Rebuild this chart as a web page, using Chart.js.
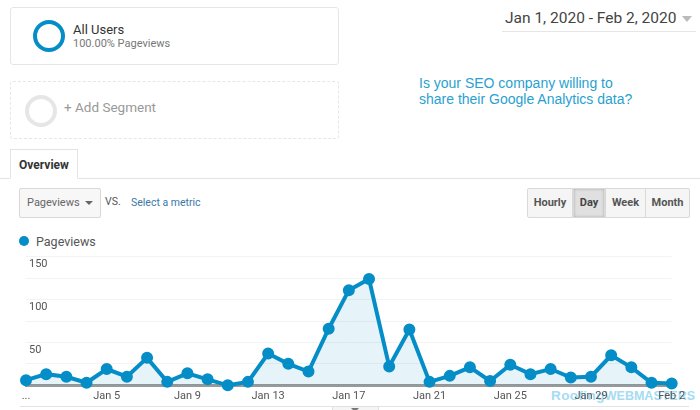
<!DOCTYPE html>
<html>
<head>
<meta charset="utf-8">
<script src="https://cdn.jsdelivr.net/npm/chart.js@4"></script>
<style>
html, body { margin: 0; padding: 0; background: #fff; }
body { width: 700px; height: 410px; position: relative; overflow: hidden; font-family: Roboto, sans-serif; }
.abs { position: absolute; white-space: nowrap; }
.box { position: absolute; left: 10px; width: 329px; height: 58px; border-radius: 3px; box-sizing: border-box; }
.ring { position: absolute; border-radius: 50%; box-sizing: border-box; width: 32px; height: 32px; border-style: solid; border-width: 4px; }
.btn { position: absolute; top: 188px; height: 30px; box-sizing: border-box; border: 1px solid #d9d9d9; background: #f5f5f5; color: #555; font: bold 11px/28px Roboto, sans-serif; text-align: center; }
#chartWrap { position: absolute; left: 0; top: 240px; width: 700px; height: 170px; }
</style>
</head>
<body>
<div class="box" style="top:7px;border:1px solid #e6e6e6"></div>
<div class="ring" style="left:33px;top:20px;border-color:#058dc7"></div>
<div class="abs" style="left:73px;top:22px;font-size:13px;color:#333">All Users</div>
<div class="abs" style="left:73px;top:37px;font-size:11px;color:#777">100.00% Pageviews</div>

<div class="box" style="top:81px;border:1px dashed #e6e6e6"></div>
<div class="ring" style="left:25px;top:95px;border-color:#e6e6e6"></div>
<div class="abs" style="left:64px;top:99px;font-size:13.5px;color:#999">+ Add Segment</div>

<div class="abs" style="left:505px;top:9px;font-size:15.5px;color:#444">Jan 1, 2020 - Feb 2, 2020</div>
<div class="abs" style="left:682px;top:16px;width:0;height:0;border-left:5px solid transparent;border-right:5px solid transparent;border-top:6px solid #bbb"></div>
<div class="abs" style="left:502px;top:31px;width:194px;height:1px;background:#e6e6e6"></div>

<div class="abs" style="left:419px;top:75px;font:14px/16px 'Liberation Sans',sans-serif;color:#2a9fd0">Is your SEO company willing to<br>share their Google Analytics data?</div>

<div class="abs" style="left:0;top:178px;width:700px;height:1px;background:#e3e3e3"></div>
<div class="abs" style="left:10px;top:149px;width:68px;height:30px;box-sizing:border-box;border:1px solid #e3e3e3;border-bottom:1px solid #fff;background:#fff;font:bold 12px/30px Roboto,sans-serif;color:#333;text-align:center">Overview</div>

<div class="abs" style="left:19px;top:188px;width:82px;height:30px;box-sizing:border-box;border:1px solid #d9d9d9;border-radius:2px;background:#f7f7f7;font:11px/28px Roboto,sans-serif;color:#666;padding-left:7px">Pageviews</div>
<div class="abs" style="left:85px;top:201px;width:0;height:0;border-left:4px solid transparent;border-right:4px solid transparent;border-top:4px solid #666"></div>
<div class="abs" style="left:105px;top:195px;font-size:10.5px;color:#555">VS.</div>
<div class="abs" style="left:131px;top:196px;font-size:10.5px;color:#3a78a8">Select a metric</div>

<div class="btn" style="left:527px;width:46px;border-radius:2px 0 0 2px">Hourly</div>
<div class="btn" style="left:573px;width:32px;background:#e0e0e0;box-shadow:inset 0 0 3px #aaa;color:#444">Day</div>
<div class="btn" style="left:605px;width:41px">Week</div>
<div class="btn" style="left:645px;width:45px;border-radius:0 2px 2px 0">Month</div>

<div class="abs" style="left:19px;top:236px;width:10px;height:10px;border-radius:50%;background:#058dc7"></div>
<div class="abs" style="left:36px;top:234px;font-size:12.5px;color:#555">Pageviews</div>

<div class="abs" style="left:551px;top:389px;font:bold 13.5px/14px 'Liberation Sans',sans-serif;color:#a5dcf3;letter-spacing:.4px">Roofing<span style="font-size:12.5px;letter-spacing:0">WEBMASTERS</span></div>

<div id="chartWrap"><canvas id="gaChart"></canvas></div>

<div class="abs" style="left:20px;top:406px;width:669px;height:1px;background:#e3e3e3"></div>
<div class="abs" style="left:332px;top:406px;width:47px;height:6px;box-sizing:border-box;border:1px solid #e0e0e0;background:#f5f5f5"></div>
<div class="abs" style="left:351px;top:408px;width:0;height:0;border-left:4px solid transparent;border-right:4px solid transparent;border-top:4px solid #777"></div>

<script>
// Chart data
const DAYS = ['Jan 1', 'Jan 2', 'Jan 3', 'Jan 4', 'Jan 5', 'Jan 6', 'Jan 7', 'Jan 8', 'Jan 9', 'Jan 10', 'Jan 11',
    'Jan 12', 'Jan 13', 'Jan 14', 'Jan 15', 'Jan 16', 'Jan 17', 'Jan 18', 'Jan 19', 'Jan 20', 'Jan 21', 'Jan 22',
    'Jan 23', 'Jan 24', 'Jan 25', 'Jan 26', 'Jan 27', 'Jan 28', 'Jan 29', 'Jan 30', 'Jan 31', 'Feb 1', 'Feb 2'];
const PAGEVIEWS = [6, 13, 10, 3, 19, 10, 32, 4, 14, 7, 0, 4, 37, 25, 16, 66, 111, 124, 22, 65, 4, 11, 21, 5, 24, 13,
    19, 9, 10, 35, 21, 3, 2];
const TICK_DAYS = ['Jan 5', 'Jan 9', 'Jan 13', 'Jan 17', 'Jan 21', 'Jan 25', 'Jan 29', 'Feb 2'];
const Y_LABELS = [50, 100, 150];

const LINE_BLUE = '#058dc7';

new Chart(document.getElementById('gaChart').getContext('2d'), {
    type: 'line',
    data: {
        labels: DAYS,
        datasets: [{
            label: 'Pageviews',
            data: PAGEVIEWS,
            borderColor: LINE_BLUE,
            backgroundColor: 'rgba(5, 141, 199, 0.1)',
            fill: true,
            tension: 0,
            borderWidth: 4,
            pointRadius: 4,
            pointBackgroundColor: LINE_BLUE,
            pointBorderColor: LINE_BLUE,
            clip: false
        }]
    },
    options: {
        responsive: true,
        maintainAspectRatio: false,
        animation: false,
        layout: { padding: { left: 26, right: 28.3, top: 16.7, bottom: 0 } },
        plugins: { legend: { display: false }, tooltip: { enabled: false } },
        scales: {
            x: {
                offset: false,
                afterFit: (scale) => { scale.height = 24.7; },
                grid: { display: false, drawTicks: false },
                border: { color: '#999', width: 3 },
                ticks: {
                    autoSkip: false,
                    maxRotation: 0,
                    padding: 4,
                    color: '#555',
                    font: { family: 'Roboto', size: 11 },
                    callback: function (value, index) {
                        const day = DAYS[index];
                        if (index === 0) return '...';
                        return TICK_DAYS.includes(day) ? day : '';
                    }
                }
            },
            y: {
                min: 0,
                max: 150,
                afterFit: (scale) => { scale.width = 0; },
                border: { display: false },
                grid: { color: '#f3f3f3', drawTicks: false },
                ticks: {
                    stepSize: 25,
                    mirror: true,
                    padding: 3,
                    labelOffset: 8,
                    color: '#555',
                    font: { family: 'Roboto', size: 11 },
                    callback: (value) => (Y_LABELS.includes(value) ? value : '')
                }
            }
        }
    }
});
</script>
</body>
</html>
